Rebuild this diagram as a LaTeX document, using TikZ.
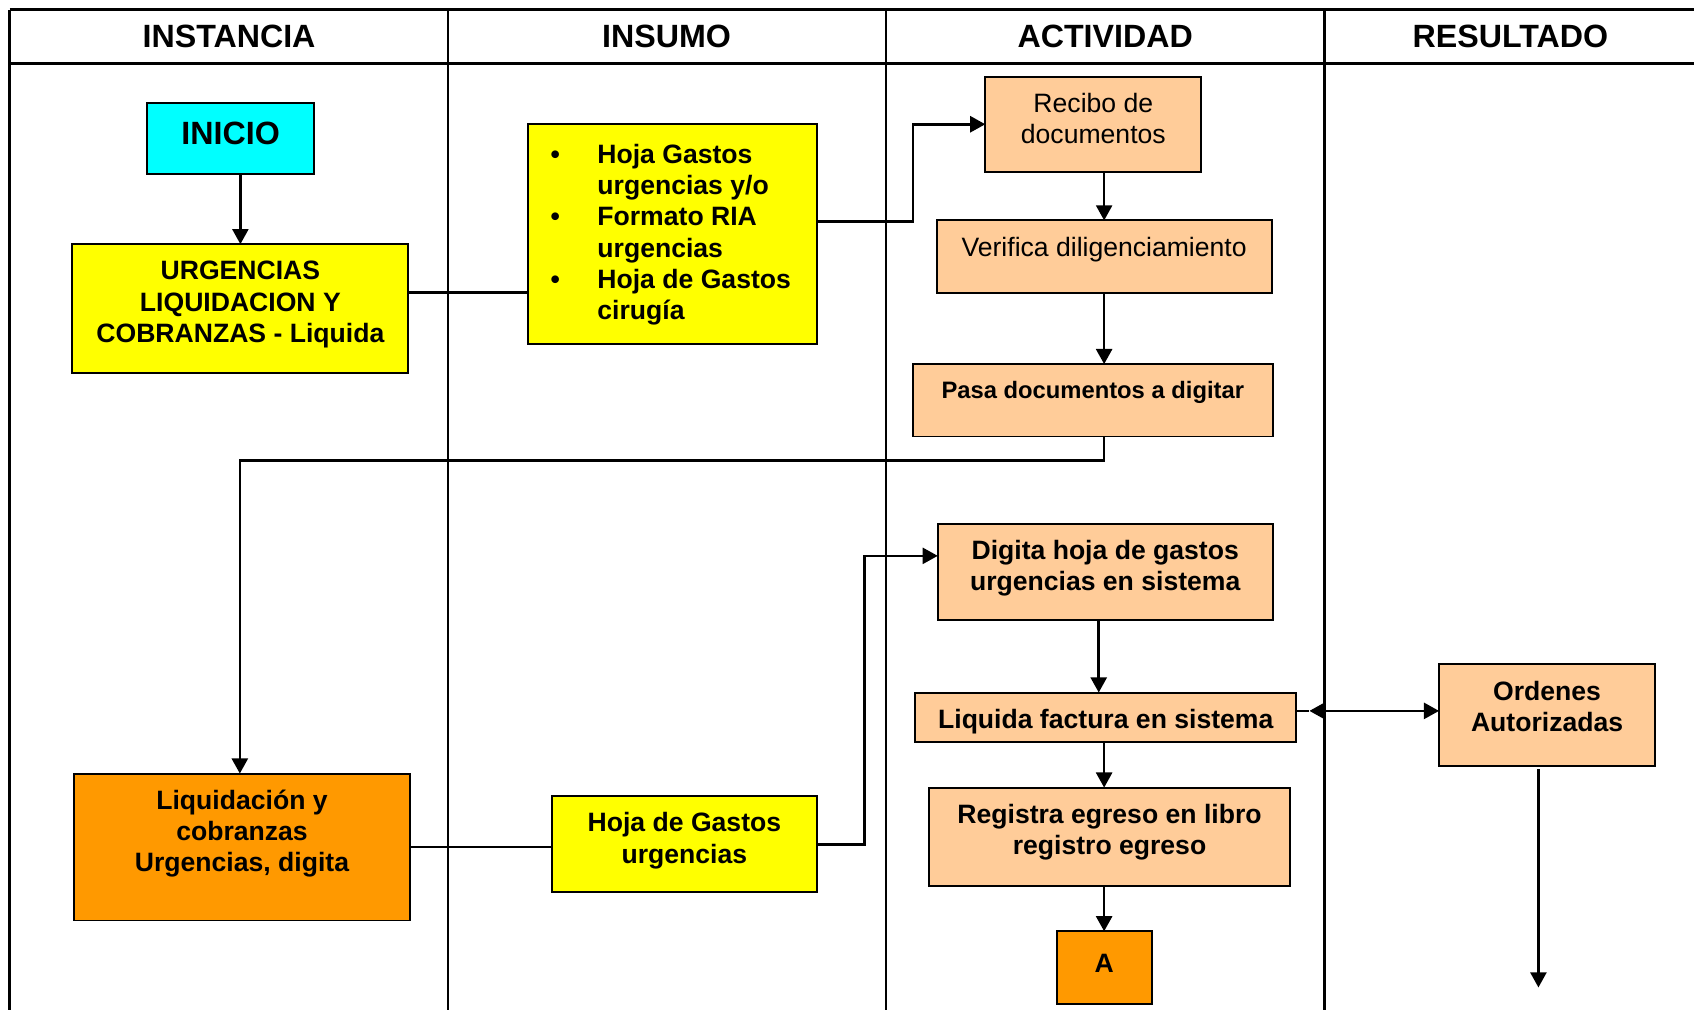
\documentclass[tikz,border=0pt]{standalone}
\usepackage{fontspec}
\setmainfont{Liberation Sans}
\usetikzlibrary{arrows.meta}
\definecolor{boxcyan}{HTML}{00FFFF}
\definecolor{boxyellow}{HTML}{FFFF00}
\definecolor{boxpeach}{HTML}{FFCC99}
\definecolor{boxorange}{HTML}{FF9900}
% box content: width, height, baseline of first line from the top, text
\newcommand\flowtext[4]{\parbox[c][#2][t]{#1}{\centering\rule{0pt}{#3}#4\par}}
% bullet hanging to the left of an item
\newcommand\blt{\leavevmode\llap{\makebox[0pt][c]{\textbullet}\hspace{19.5pt}}}

\begin{document}
\begin{tikzpicture}[x=0.5pt,y=-0.5pt,
  box/.style={draw=black, line width=0.9pt, inner sep=0pt, outer sep=0pt},
  body/.style={font=\fontsize{12.3}{14.5}\selectfont\bfseries},
  plain/.style={font=\fontsize{12.3}{14.5}\selectfont},
  small/.style={font=\fontsize{11}{13}\selectfont\bfseries},
  head/.style={font=\fontsize{14.9}{17}\selectfont\bfseries},
  conn/.style={line width=1.2pt},
  tip/.style={Triangle[length=7pt,width=7.4pt]},
  arr/.style={conn,-{Triangle[length=7pt,width=7.4pt]}},
  arrboth/.style={conn,{Triangle[length=7pt,width=7.4pt]}-{Triangle[length=7pt,width=7.4pt]}},
  frame/.style={line width=1.2pt},
  lane/.style={line width=1pt}]

\clip (0,0) rectangle (1568,934);
\fill[white] (0,0) rectangle (1568,934);

% swimlane table
\draw[frame] (9,9) -- (1600,9);
\draw[frame] (9,59) -- (1600,59);
\draw[frame] (9,9) -- (9,960);
\draw[lane] (415,9) -- (415,960);
\draw[lane] (820,9) -- (820,960);
\draw[lane] (1226,9) -- (1226,960);

\node[head] (hInst) at (212,34) {INSTANCIA};
\node[head] (hIns) at (617,34) {INSUMO};
\node[head] (hAct) at (1023,34) {ACTIVIDAD};
\node[head] (hRes) at (1398,34) {RESULTADO};

% instancia
\node[box, fill=boxcyan, head] (ini) at (213.5,128)
  {\flowtext{77.5pt}{33pt}{19.25pt}{INICIO}};
\node[box, fill=boxyellow, body] (urg) at (222.5,285.5)
  {\flowtext{155.5pt}{59.5pt}{16.5pt}{URGENCIAS\\LIQUIDACION Y\\COBRANZAS - Liquida}};
\node[box, fill=boxorange, body] (liqc) at (224,784)
  {\flowtext{155.5pt}{68pt}{16.5pt}{Liquidación y\\cobranzas\\Urgencias, digita}};

% insumo
\node[box, fill=boxyellow, body] (ins) at (622.5,216.5)
  {\parbox[c][101.5pt][t]{133.5pt}{\raggedright\leftskip=32pt\parindent=0pt
   \rule{0pt}{18pt}\blt Hoja Gastos\\urgencias y/o\\\blt Formato RIA\\urgencias\\\blt Hoja de Gastos\\cirugía\par}};
\node[box, fill=boxyellow, body] (hoja) at (633.5,781.5)
  {\flowtext{122.5pt}{44.5pt}{16.5pt}{Hoja de Gastos\\urgencias}};

% actividad
\node[box, fill=boxpeach, plain] (rec) at (1012,115)
  {\flowtext{100pt}{44pt}{16.5pt}{Recibo de\\documentos}};
\node[box, fill=boxpeach, plain] (ver) at (1022,237.5)
  {\flowtext{155pt}{33.5pt}{16.5pt}{Verifica diligenciamiento}};
\node[box, fill=boxpeach, small] (pasa) at (1011.5,370.5)
  {\flowtext{166.5pt}{33.5pt}{16pt}{Pasa documentos a digitar}};
\node[box, fill=boxpeach, body] (dig) at (1023,529.5)
  {\flowtext{155pt}{44.5pt}{16.5pt}{Digita hoja de gastos\\urgencias en sistema}};
\node[box, fill=boxpeach, body] (liqf) at (1023.5,664)
  {\flowtext{176.5pt}{23pt}{16.5pt}{Liquida factura en sistema}};
\node[box, fill=boxpeach, body] (reg) at (1027,774.5)
  {\flowtext{167pt}{45.5pt}{16.5pt}{Registra egreso en libro\\registro egreso}};
\node[box, fill=boxorange, body] (a) at (1022,895.5)
  {\flowtext{44pt}{33.5pt}{18.9pt}{A}};

% resultado
\node[box, fill=boxpeach, body] (ord) at (1432,662)
  {\flowtext{100pt}{47pt}{16.5pt}{Ordenes\\Autorizadas}};
\coordinate (ordend) at (1424,914);

% connectors
\draw[arr] (urg.north |- ini.south) -- (urg.north);
\draw[conn] ([yshift=7.25pt]urg.east) -- ([yshift=7.25pt]urg.east -| ins.west);
\draw[arr] ([yshift=5.75pt]ins.east) -| ([xshift=-33.5pt]rec.west) -- (rec.west);
\draw[arr] (ver.north |- rec.south) -- (ver.north);
\draw[arr] (ver.south) -- (ver.south |- pasa.north);
\coordinate (turn) at (1022,426);
\draw[arr] (turn |- pasa.south) -- (turn) -| ([xshift=-1pt]liqc.north);
\draw[conn] (liqc.east) -- (liqc.east -| hoja.west);
\draw[arr] (hoja.east) -| ([xshift=-34pt,yshift=7.5pt]dig.west) -- ([yshift=7.5pt]dig.west);
\draw[arr] ([xshift=-3pt]dig.south) -- ([xshift=-3pt]dig.south |- liqf.north);
\draw[conn] ([yshift=3pt]liqf.east) -- ([xshift=6pt,yshift=3pt]liqf.east);
\draw[arrboth] ([xshift=6pt,yshift=3pt]liqf.east) -- ([yshift=3pt]liqf.east -| ord.west);
\draw[arr] (a.north |- liqf.south) -- (a.north |- reg.north);
\draw[arr] (a.north |- reg.south) -- (a.north);
\draw[arr] ([yshift=-1.5pt]ord.south -| ordend) -- (ordend);
\end{tikzpicture}
\end{document}
